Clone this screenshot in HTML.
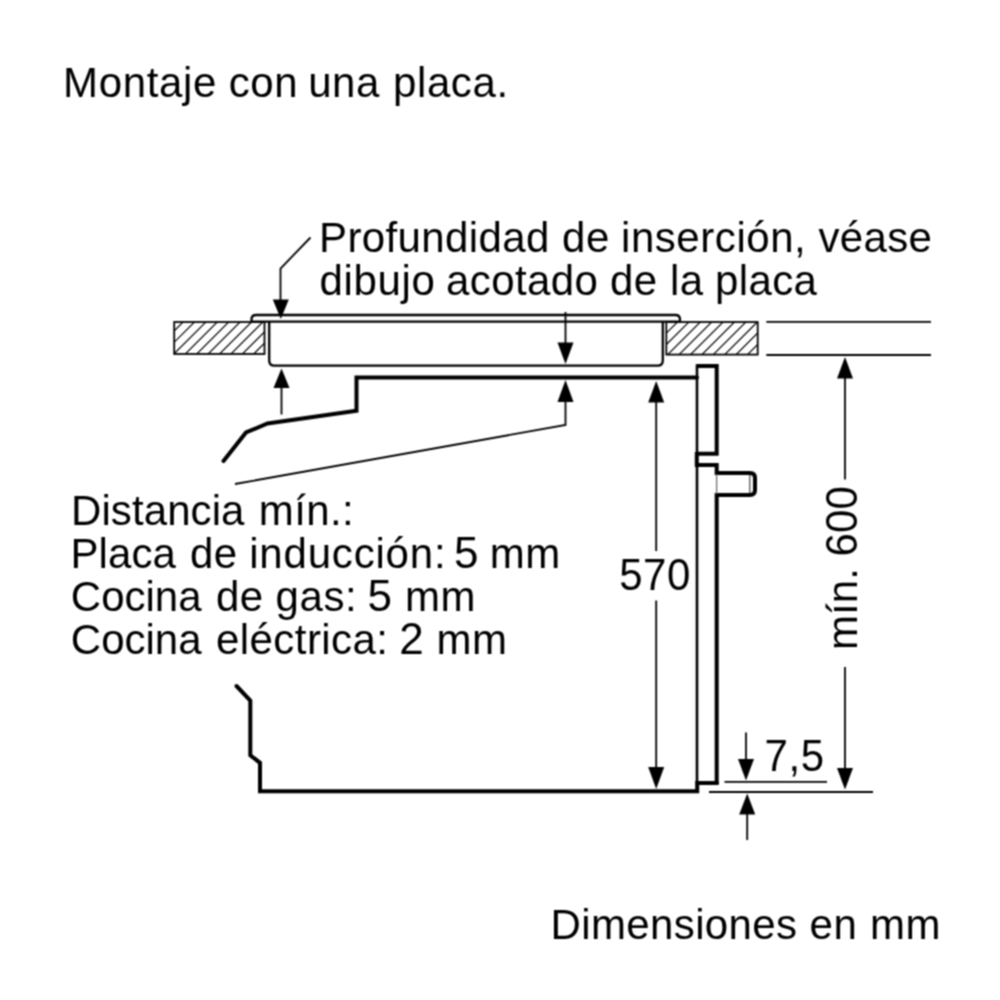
<!DOCTYPE html>
<html lang="es">
<head>
<meta charset="utf-8">
<title>Montaje con una placa</title>
<style>
html,body{margin:0;padding:0;background:#fff;}
body{width:1000px;height:1000px;overflow:hidden;position:relative;}
svg{position:absolute;left:0;top:0;display:block;will-change:transform;}
text{font-family:"Liberation Sans",Arial,Helvetica,sans-serif;fill:#000;stroke:none;}
.t{font-size:42px;}
.k{stroke:#000;fill:none;stroke-width:4;stroke-linejoin:miter;stroke-linecap:butt;}
.m{stroke:#000;fill:none;stroke-width:2.3;}
.n{stroke:#000;fill:none;stroke-width:1.8;}
.a{fill:#000;stroke:none;}
</style>
</head>
<body>
<svg width="1000" height="1000" viewBox="0 0 1000 1000">
<defs>
<filter id="soft" x="0" y="0" width="1000" height="1000" filterUnits="userSpaceOnUse" color-interpolation-filters="sRGB"><feConvolveMatrix order="3" kernelMatrix="0.0625 0.1250 0.0625 0.1250 0.2500 0.1250 0.0625 0.1250 0.0625" divisor="1" edgeMode="duplicate" preserveAlpha="true"/></filter>
<clipPath id="c1"><rect x="174.2" y="322" width="90.3" height="32"/></clipPath>
<clipPath id="c2"><rect x="666.3" y="322" width="91.4" height="32.6"/></clipPath>
</defs>
<g filter="url(#soft)">
<rect x="-20" y="-20" width="1040" height="1040" fill="#fff"/>

<!-- texts -->
<text class="t" y="97.2"><tspan x="63.0" style="letter-spacing:0.67px">Montaje</tspan> <tspan x="228.8" style="letter-spacing:0.50px">con</tspan> <tspan x="308.2" style="letter-spacing:0.50px">una</tspan> <tspan x="393.0" style="letter-spacing:0.60px">placa.</tspan></text>
<text class="t" y="251.8"><tspan x="319.0" style="letter-spacing:0.38px">Profundidad</tspan> <tspan x="562.1" style="letter-spacing:0.50px">de</tspan> <tspan x="621.0" style="letter-spacing:0.56px">inserción,</tspan> <tspan x="818.5" style="letter-spacing:0.31px">véase</tspan></text>
<text class="t" y="294.9"><tspan x="319.5" style="letter-spacing:0.65px">dibujo</tspan> <tspan x="446.0" style="letter-spacing:0.40px">acotado</tspan> <tspan x="609.9" style="letter-spacing:0.50px">de</tspan> <tspan x="670.0" style="letter-spacing:0.50px">la</tspan> <tspan x="715.0" style="letter-spacing:0.38px">placa</tspan></text>
<text class="t" y="524.6"><tspan x="71.0" style="letter-spacing:0.09px">Distancia</tspan> <tspan x="258.8" style="letter-spacing:0.36px">mín.:</tspan></text>
<text class="t" y="568"><tspan x="70.5" style="letter-spacing:0.06px">Placa</tspan> <tspan x="190.0" style="letter-spacing:0.50px">de</tspan> <tspan x="249.2" style="letter-spacing:0.81px">inducción:</tspan> <tspan x="454.0" style="font-size:44px">5</tspan> <tspan x="489.8" style="letter-spacing:0.50px">mm</tspan></text>
<text class="t" y="610.6"><tspan x="70.8">Cocina</tspan> <tspan x="216.0" style="letter-spacing:0.50px">de</tspan> <tspan x="275.6" style="letter-spacing:0.55px">gas:</tspan> <tspan x="367.6" style="font-size:44px">5</tspan> <tspan x="405.0" style="letter-spacing:0.50px">mm</tspan></text>
<text class="t" y="653.7"><tspan x="70.8">Cocina</tspan> <tspan x="216.0" style="letter-spacing:0.44px">eléctrica:</tspan> <tspan x="399.2" style="font-size:44px">2</tspan> <tspan x="436.6" style="letter-spacing:0.50px">mm</tspan></text>
<text class="t" y="939.2"><tspan x="550.5" style="letter-spacing:0.38px">Dimensiones</tspan> <tspan x="809.6" style="letter-spacing:0.50px">en</tspan> <tspan x="869.9" style="letter-spacing:0.50px">mm</tspan></text>
<text class="t" transform="translate(619.2,590.4) scale(1,1.05)" style="letter-spacing:0.55px">570</text>
<text class="t" transform="translate(764.6,770.8) scale(1,1.05)" style="letter-spacing:0.62px">7,5</text>
<text class="t" transform="translate(857.3,650.0) rotate(-90)" style="letter-spacing:0.08px">mín.</text>
<text class="t" transform="translate(857.3,556.5) rotate(-90) scale(1,1.05)" style="letter-spacing:0.12px">600</text>

<!-- worktop hatch blocks -->
<path d="M126.3,356.0L162.3,320.0M137.7,356.0L173.7,320.0M149.1,356.0L185.1,320.0M160.5,356.0L196.5,320.0M171.9,356.0L207.9,320.0M183.3,356.0L219.3,320.0M194.7,356.0L230.7,320.0M206.1,356.0L242.1,320.0M217.5,356.0L253.5,320.0M228.9,356.0L264.9,320.0M240.3,356.0L276.3,320.0M251.7,356.0L287.7,320.0M263.1,356.0L299.1,320.0M274.5,356.0L310.5,320.0" clip-path="url(#c1)" stroke="#000" stroke-width="1.2" fill="none"/>
<rect x="174.2" y="322" width="90.3" height="32" fill="none" stroke="#000" stroke-width="1.8"/>
<path d="M620.7,356.0L656.7,320.0M632.1,356.0L668.1,320.0M643.5,356.0L679.5,320.0M654.9,356.0L690.9,320.0M666.3,356.0L702.3,320.0M677.7,356.0L713.7,320.0M689.1,356.0L725.1,320.0M700.5,356.0L736.5,320.0M711.9,356.0L747.9,320.0M723.3,356.0L759.3,320.0M734.7,356.0L770.7,320.0M746.1,356.0L782.1,320.0M757.5,356.0L793.5,320.0M768.9,356.0L804.9,320.0" clip-path="url(#c2)" stroke="#000" stroke-width="1.2" fill="none"/>
<rect x="666.3" y="322" width="91.4" height="32.6" fill="none" stroke="#000" stroke-width="1.8"/>

<!-- hob -->
<path class="m" d="M251.5,321.5 V319.5 Q251.5,315 256,315 H675.5 Q680,315 680,319.5 V321.5"/>
<path class="m" d="M251.5,321.6 H680"/>
<path class="m" d="M269.2,321.5 V360.5 Q269.2,365.7 274.4,365.7 H657.6 Q662.8,365.7 662.8,360.5 V321.5"/>

<!-- right worktop lines -->
<path class="n" d="M766.3,321.9 H931 M766.3,355 H931"/>

<!-- oven body -->
<path class="k" d="M223.5,461 L246,432.5 L267.5,423.5 L356.5,410.8 V377.4 H697" style="stroke-linecap:round"/>
<path class="k" d="M236.5,686 L250.3,700.5 V755.3 L260,762.8 V791.2 H697.2 V783 H717" style="stroke-linecap:round"/>
<!-- door -->
<path class="k" d="M697,366 H716.7 V453.8 H697"/>
<path class="m" d="M697,364.2 V455.6" style="stroke-width:2.6"/>
<path class="k" d="M696.8,452 V467"/>
<path class="k" d="M695,465 H716.7 V473 H750 Q755,473 755,478 V490 Q755,495 750,495 H716.7 V784.8"/>
<path class="m" d="M697,466 V784" style="stroke-width:2.6"/>
<path d="M716.6,474 V494" stroke="#666" stroke-width="1.2" fill="none"/>
<path d="M749.8,475 V493" stroke="#444" stroke-width="1.2" fill="none"/>

<!-- arrows -->
<path class="n" d="M310.5,237.5 L280.5,268.5 V300"/>
<path class="a" d="M280.8,319 L272.8,299.5 H288.8 Z"/>
<path class="n" d="M281.5,388 V414.5"/>
<path class="a" d="M281.5,368.5 L273.5,388 H289.5 Z"/>

<path class="n" d="M565.5,312 V343"/>
<path class="a" d="M565.5,364 L557.5,342.5 H573.5 Z"/>
<path class="n" d="M565.5,402 V425 L235,484"/>
<path class="a" d="M565.5,380 L557.5,402 H573.5 Z"/>

<path class="n" d="M656.2,402 V551 M656.2,600.5 V768"/>
<path class="a" d="M656.2,381 L648.2,402.5 H664.2 Z"/>
<path class="a" d="M656.2,789 L648.2,767 H664.2 Z"/>

<path class="n" d="M845,378 V479.5 M845,667 V768"/>
<path class="a" d="M845,357 L837,378.5 H853 Z"/>
<path class="a" d="M845,789.5 L837,768 H853 Z"/>

<path class="n" d="M724.5,781.9 H827 M709,792 H873" style="stroke-width:1.9"/>
<path class="n" d="M746,732.5 V760"/>
<path class="a" d="M746,780.5 L738,759 H754 Z"/>
<path class="n" d="M747.2,814 V840"/>
<path class="a" d="M747.2,793.5 L739.2,814.5 H755.2 Z"/>
</g>
</svg>
</body>
</html>
